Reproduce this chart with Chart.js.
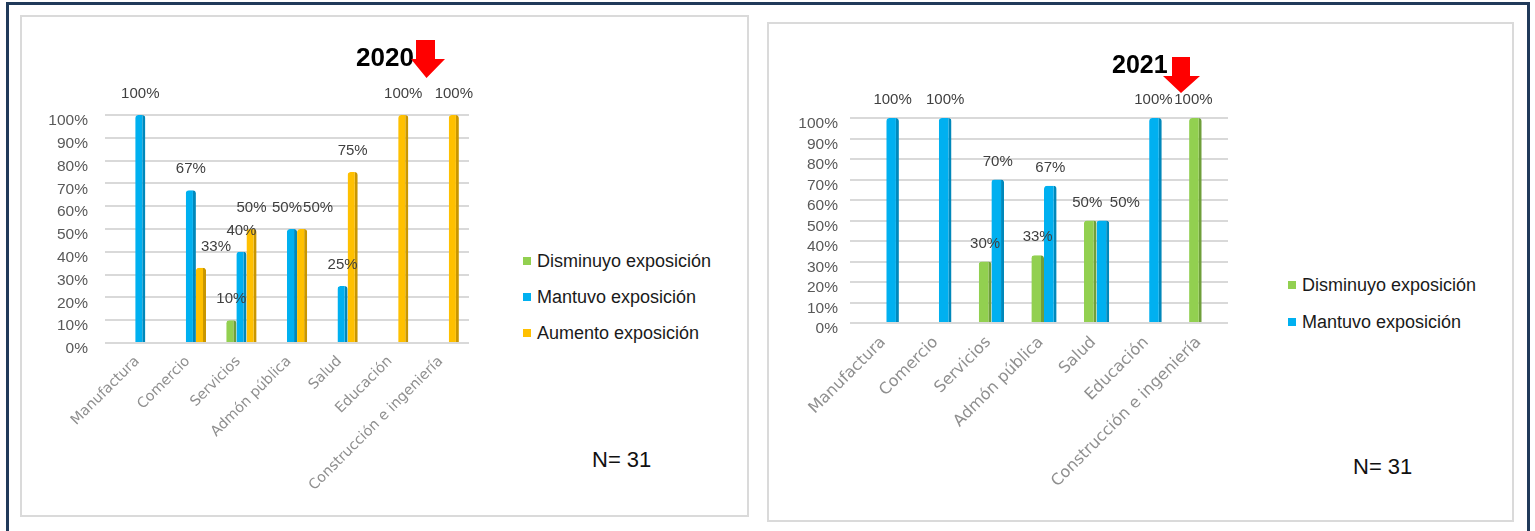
<!DOCTYPE html>
<html>
<head>
<meta charset="utf-8">
<script src="https://cdn.jsdelivr.net/npm/chart.js@4.4.0/dist/chart.umd.min.js"></script>
<style>
  html, body { margin: 0; padding: 0; background: #fff; width: 1535px; height: 531px; overflow: hidden; }
  .abs { position: absolute; }
  #frame { left: 6px; top: 2px; width: 1524px; height: 560px; border: 3px solid #203a5a; box-sizing: border-box; }
  .panel { border: 2px solid #dadada; box-sizing: border-box; background: #fff; }
  .title { font-family: "Liberation Sans", Arial, sans-serif; font-weight: bold; color: #000; line-height: 1; white-space: nowrap; }
  .nlab { font-family: "Liberation Sans", Arial, sans-serif; font-size: 22px; color: #111; line-height: 1; white-space: nowrap; }
  .legend { font-family: "Liberation Sans", Arial, sans-serif; font-size: 18px; color: #1a1a1a; }
  .legend .item { display: flex; align-items: center; height: 18px; line-height: 1; white-space: nowrap; position: absolute; left: 0; }
  .legend .sw { width: 8px; height: 8px; margin-right: 6px; }
</style>
</head>
<body>
<div id="frame" class="abs"></div>
<div class="abs panel" style="left:20px;top:15px;width:729px;height:502px;"></div>
<div class="abs panel" style="left:767px;top:22px;width:747px;height:500px;"></div>

<canvas id="c2020" class="abs" width="480" height="493" style="left:22px;top:20px;"></canvas>
<canvas id="c2021" class="abs" width="490" height="490" style="left:770px;top:26px;"></canvas>

<div class="abs title" style="left:356px;top:44px;font-size:26px;">2020</div>
<svg class="abs" style="left:405px;top:36px;" width="50" height="48">
  <polygon points="11,4 30,4 30,23 40,23 21.5,42 6,23 11,23" fill="#ff0000"/>
</svg>
<div class="abs title" style="left:1112px;top:52px;font-size:25px;">2021</div>
<svg class="abs" style="left:1158px;top:52px;" width="50" height="48">
  <polygon points="14,5 32,5 32,24 42,24 23,41 5,24 14,24" fill="#ff0000"/>
</svg>

<div id="leg2020" class="abs legend" style="left:523px;top:252px;"></div>
<div id="leg2021" class="abs legend" style="left:1288px;top:276px;"></div>

<div class="abs nlab" style="left:592px;top:449px;">N= 31</div>
<div class="abs nlab" style="left:1353px;top:456px;">N= 31</div>

<script>
// ---- data ----
const categories = ['Manufactura', 'Comercio', 'Servicios', 'Admón pública', 'Salud', 'Educación', 'Construcción e ingeniería'];
const seriesNames = ['Disminuyo exposición', 'Mantuvo exposición', 'Aumento exposición'];
const yTicks = [0, 10, 20, 30, 40, 50, 60, 70, 80, 90, 100];

const disminuyo2020 = [null, null, 10, null, null, null, null];
const mantuvo2020   = [100, 67, 40, 50, 25, null, null];
const aumento2020   = [null, 33, 50, 50, 75, 100, 100];

const disminuyo2021 = [null, null, 30, 33, 50, null, 100];
const mantuvo2021   = [100, 100, 70, 67, 50, 100, null];

// ---- styles ----
const GREEN = '#92d050', GREEN_D = '#6f9f3a';
const BLUE = '#00b0f0', BLUE_D = '#0088bb';
const ORANGE = '#ffc000', ORANGE_D = '#c99600';

function barStyle(color, dark) {
  return {
    backgroundColor: color,
    borderColor: dark,
    borderWidth: { top: 0, left: 0, bottom: 0, right: 3 },
    borderSkipped: false,
    borderRadius: { topLeft: 3, topRight: 3, bottomLeft: 0, bottomRight: 0 },
    barPercentage: 1.0
  };
}

const valueLabels = {
  id: 'valueLabels',
  afterDatasetsDraw(chart, args, opts) {
    const ctx = chart.ctx;
    ctx.save();
    ctx.font = opts.font;
    ctx.fillStyle = opts.color;
    ctx.textAlign = 'center';
    ctx.textBaseline = 'middle';
    chart.data.datasets.forEach((ds, di) => {
      const meta = chart.getDatasetMeta(di);
      meta.data.forEach((el, i) => {
        const v = ds.data[i];
        if (v === null || v === undefined) return;
        const shift = (opts.shifts && opts.shifts[di + '-' + i]) || 0;
        ctx.fillText(Math.round(v) + '%', el.x + shift, el.y - opts.offset);
      });
    });
    ctx.restore();
  }
};

function makeChart(id, datasets, cfg) {
  return new Chart(document.getElementById(id), {
    type: 'bar',
    data: { labels: categories, datasets: datasets },
    options: {
      responsive: false,
      animation: false,
      devicePixelRatio: 1,
      layout: { padding: cfg.padding },
      plugins: {
        legend: { display: false },
        tooltip: { enabled: false },
        title: { display: false },
        valueLabels: { font: '15px "Liberation Sans", Arial, sans-serif', color: '#404040', offset: cfg.labelOffset, shifts: cfg.shifts }
      },
      datasets: { bar: { categoryPercentage: cfg.catPct } },
      scales: {
        x: {
          grid: { display: false },
          border: { display: false },
          ticks: {
            minRotation: 45, maxRotation: 45, autoSkip: false,
            color: '#8f8f8f', padding: cfg.xPad, labelOffset: -3,
            font: { family: '"DejaVu Sans", sans-serif', size: cfg.xFont }
          },
          afterFit(scale) { scale.height = cfg.xHeight; }
        },
        y: {
          min: 0, max: 100,
          afterBuildTicks(scale) { scale.ticks = yTicks.map(v => ({ value: v })); },
          grid: { color: '#d9d9d9', lineWidth: 2, drawTicks: true, tickLength: 10, tickColor: '#d9d9d9' },
          border: { display: false },
          ticks: {
            autoSkip: false,
            color: '#595959', padding: cfg.yPad, labelOffset: cfg.yLabelOffset,
            font: { family: '"Liberation Sans", Arial, sans-serif', size: 15.5 },
            callback: v => v + '%'
          },
          afterFit(scale) { scale.width = cfg.yWidth; }
        }
      }
    },
    plugins: [valueLabels]
  });
}

const chart2020 = makeChart('c2020', [
  Object.assign({ label: seriesNames[0], data: disminuyo2020 }, barStyle(GREEN, GREEN_D)),
  Object.assign({ label: seriesNames[1], data: mantuvo2020 }, barStyle(BLUE, BLUE_D)),
  Object.assign({ label: seriesNames[2], data: aumento2020 }, barStyle(ORANGE, ORANGE_D))
], {
  padding: { top: 95, right: 33, left: 0, bottom: 5 },
  catPct: 0.6, yWidth: 93, yPad: 17, yLabelOffset: 6, xFont: 14.3, xPad: 2, xHeight: 165,
  labelOffset: 21,
  shifts: { '2-1': 15, '1-3': -5, '2-3': 16 }
});

const chart2021 = makeChart('c2021', [
  Object.assign({ label: seriesNames[0], data: disminuyo2021 }, barStyle(GREEN, GREEN_D)),
  Object.assign({ label: seriesNames[1], data: mantuvo2021 }, barStyle(BLUE, BLUE_D))
], {
  padding: { top: 92, right: 32, left: 0, bottom: 5 },
  catPct: 0.48, yWidth: 90, yPad: 12, yLabelOffset: 6, xFont: 16, xPad: 2, xHeight: 188,
  labelOffset: 18,
  shifts: { '0-4': -3, '1-4': 22, '1-5': -2, '0-6': -2 }
});

function buildLegend(chart, elId, spacing) {
  const host = document.getElementById(elId);
  chart.data.datasets.forEach((ds, i) => {
    const item = document.createElement('div');
    item.className = 'item';
    item.style.top = (i * spacing) + 'px';
    const sw = document.createElement('span');
    sw.className = 'sw';
    sw.style.background = ds.backgroundColor;
    const tx = document.createElement('span');
    tx.textContent = ds.label;
    item.appendChild(sw);
    item.appendChild(tx);
    host.appendChild(item);
  });
}
buildLegend(chart2020, 'leg2020', 36);
buildLegend(chart2021, 'leg2021', 37);
</script>
</body>
</html>
